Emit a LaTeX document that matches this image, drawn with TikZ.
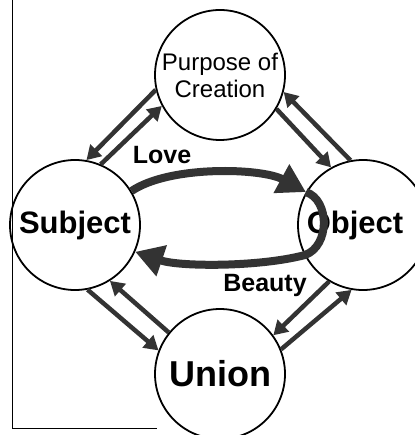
\documentclass[tikz,border=0pt]{standalone}
\usepackage{fontspec}
\setmainfont{Liberation Sans}
\usetikzlibrary{arrows.meta}
\newcommand{\bigword}{\fontsize{31}{31}\selectfont\bfseries}
\begin{document}
\begin{tikzpicture}[x=1pt,y=-1pt,
  stage/.style={draw,circle,line width=1.8pt,minimum size=130pt,inner sep=0pt,align=center},
  link/.style={line width=4.5pt,draw=black!80,-{Triangle[length=14pt,width=16pt]}},
  flow/.style={line width=8pt,draw=black!80,-{Triangle[length=28pt,width=31pt]}}]
  \useasboundingbox (0,0) rectangle (414,435);
  \draw[line width=0.8pt] (12,0) -- (12,428) -- (157,428);
  % the four circles
  \node[stage,font=\fontsize{24}{27}\selectfont] (purpose) at (220,75) {Purpose of\\Creation};
  \node[stage] (subject) at (75,225) {\bigword Subject};
  \node[stage,label={[xshift=-8pt]center:\bigword Object}] (object) at (363,225) {};
  \node[stage] (union) at (220,374) {\fontsize{36}{36}\selectfont\bfseries Union};
  % paired arrows
  \draw[link] (purpose.193) -- (subject.80);
  \draw[link] (subject.67) -- (purpose.208);
  \draw[link] (object.101) -- (purpose.345);
  \draw[link] (purpose.329) -- (object.119);
  \draw[link] (subject.281) -- (union.159);
  \draw[link] (union.141) -- (subject.302);
  \draw[link] (union.22) -- (object.260);
  \draw[link] (object.239) -- (union.36);
  % love and beauty
  \draw[flow] (subject.31) .. controls (170,165) and (262,168) .. (object.150);
  \draw[flow] (object.150) .. controls (330,200) and (330,246) .. (305,255)
    .. controls (260,267) and (180,267) .. (subject.336);
  \node[font=\fontsize{25}{25}\selectfont\bfseries] (love) at (162,155) {Love};
  \node[font=\fontsize{25}{25}\selectfont\bfseries] (beauty) at (265,285) {Beauty};
\end{tikzpicture}
\end{document}
